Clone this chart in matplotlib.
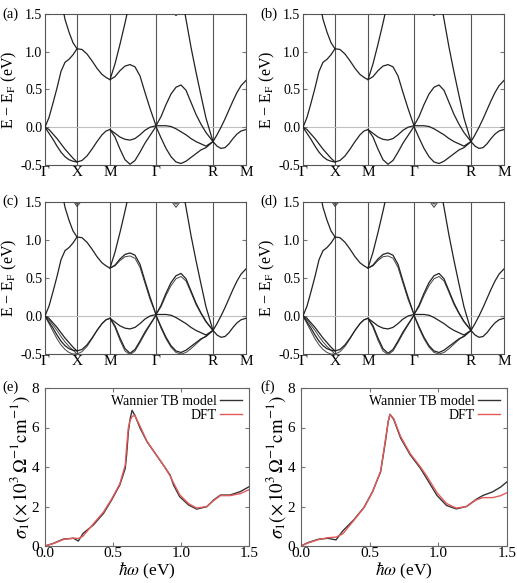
import numpy as np
import matplotlib
matplotlib.use('Agg')
import matplotlib.pyplot as plt
from matplotlib.ticker import FormatStrFormatter

plt.rcParams['font.family'] = 'Liberation Serif'
plt.rcParams['mathtext.fontset'] = 'stix'
plt.rcParams['axes.unicode_minus'] = False

nan = np.nan

# k-path coordinate (path length, arb. units)
k_path = [0, 4, 8, 12, 16, 20, 24, 28, 32,
          37, 42, 47, 52, 57, 61, 65,
          70, 75, 80, 85, 90, 95, 100, 105, 111,
          116, 121, 126, 131, 136, 141, 146, 151, 156, 161, 168,
          172, 176, 180, 184, 188, 192, 196, 201]
k_ticks = [0, 32, 65, 111, 168, 201]
k_labels = ['Γ', 'X', 'M', 'Γ', 'R', 'M']

# bands without splitting (panels a, b)
band_a = [0.00, 0.13, 0.32, 0.52, 0.74, 0.86, 0.90, 0.96, 1.04,
          1.03, 0.97, 0.88, 0.78, 0.70, 0.66, 0.63,
          0.67, 0.75, 0.81, 0.83, 0.80, 0.68, 0.46, 0.25, 0.02,
          0.14, 0.30, 0.44, 0.53, 0.56, 0.49, 0.33, 0.17, 0.04, -0.07, -0.19,
          -0.10, 0.00, 0.11, 0.23, 0.35, 0.46, 0.55, 0.62]
band_u1 = [nan] * 4 + [1.70, 1.43, 1.26, 1.12, 1.04] + [nan] * 35
band_u2 = [nan] * 15 + [0.63, 0.84, 1.10, 1.38, 1.68] + [nan] * 24
band_s = [nan] * 29 + [1.80, 1.43, 1.06, 0.73, 0.42, 0.12, -0.19] + [nan] * 8
band_l1 = [0.00, -0.08, -0.16, -0.25, -0.33, -0.39, -0.43, -0.45, -0.46,
           -0.44, -0.38, -0.29, -0.19, -0.10, -0.05, -0.03,
           -0.13, -0.29, -0.43, -0.49, -0.44, -0.33, -0.21, -0.11, 0.01,
           -0.14, -0.28, -0.39, -0.46, -0.48, -0.45, -0.40, -0.35, -0.30, -0.27, -0.19,
           -0.25, -0.28, -0.27, -0.22, -0.15, -0.09, -0.05, -0.03]
band_l2 = [0.00, -0.03, -0.09, -0.15, -0.22, -0.29, -0.35, -0.41, -0.46,
           nan, nan, nan, nan, nan, nan, -0.03,
           -0.08, -0.13, -0.16, -0.17, -0.15, -0.10, -0.04, 0.00, 0.02,
           0.02, 0.02, 0.01, -0.02, -0.06, -0.10, -0.15, -0.19, -0.22, -0.25, -0.19,
           nan, nan, nan, nan, nan, nan, nan, nan]
band_top = [nan] * 27 + [1.53, 1.48, 1.53] + [nan] * 14

# extra split partners (panels c, d)
split_l1 = [0.00, -0.10, -0.20, -0.30, -0.38, -0.44, -0.48, -0.50, -0.50,
            -0.47, -0.40, -0.30, -0.19, -0.10, -0.05, -0.03] + [nan] * 28
split_l2 = [0.00, -0.05, -0.12, -0.19, -0.27, -0.34, -0.40, -0.45, -0.50] + [nan] * 35
split_a = [nan] * 15 + [0.63, 0.66, 0.73, 0.78, 0.79, 0.76, 0.64, 0.43, 0.22, 0.02,
                        0.12, 0.27, 0.40, 0.49, 0.52, 0.46, 0.31, 0.15, 0.03, -0.08, -0.19] + [nan] * 8
split_l4 = [nan] * 15 + [-0.03, -0.15, -0.32, -0.46, -0.51, -0.46, -0.35, -0.23, -0.12, 0.01,
                         -0.16, -0.30, -0.41, -0.48, -0.50, -0.48, -0.43, -0.37, -0.31, -0.26, -0.19] + [nan] * 8
top1_soc = [nan] * 7 + [1.53, 1.47, 1.53] + [nan] * 17 + [1.53, 1.47, 1.53] + [nan] * 14
top2_soc = [nan] * 7 + [1.52, 1.44, 1.52] + [nan] * 17 + [1.52, 1.43, 1.52] + [nan] * 14

# optical conductivity (e)
omega_e = [0, 0.06, 0.135, 0.21, 0.245, 0.28, 0.355, 0.43, 0.49, 0.55, 0.59, 0.60, 0.613,
           0.625, 0.64, 0.66, 0.70, 0.75, 0.81, 0.87, 0.92, 0.945, 0.99, 1.055, 1.115,
           1.19, 1.24, 1.29, 1.36, 1.435, 1.5]
tb_e = [0, 0.13, 0.35, 0.39, 0.25, 0.64, 1.06, 1.65, 2.33, 3.09, 3.93, 4.6, 5.79,
        6.4, 6.87, 6.63, 5.96, 5.28, 4.69, 4.10, 3.59, 3.09, 2.50, 2.08, 1.87,
        1.99, 2.33, 2.58, 2.58, 2.75, 3.0]
dft_e = [0, 0.12, 0.33, 0.40, 0.38, 0.50, 1.12, 1.72, 2.38, 3.15, 4.1, 5.0, 6.0,
         6.35, 6.55, 6.62, 6.05, 5.3, 4.7, 4.1, 3.55, 3.2, 2.6, 2.15, 1.92,
         2.0, 2.3, 2.55, 2.55, 2.65, 2.85]

# optical conductivity (f)
omega_f = [0, 0.05, 0.125, 0.195, 0.255, 0.305, 0.385, 0.46, 0.52, 0.58, 0.615, 0.635,
           0.648, 0.675, 0.725, 0.795, 0.87, 0.915, 0.99, 1.06, 1.13, 1.205, 1.275,
           1.325, 1.395, 1.455, 1.5]
tb_f = [0, 0.17, 0.34, 0.39, 0.31, 0.77, 1.33, 1.97, 2.74, 3.76, 5.30, 6.3,
        6.67, 6.41, 5.47, 4.62, 3.93, 3.42, 2.56, 2.05, 1.88, 2.0, 2.36,
        2.56, 2.74, 2.99, 3.25]
dft_f = [0, 0.15, 0.32, 0.42, 0.45, 0.62, 1.30, 1.95, 2.72, 3.80, 5.40, 6.3,
         6.65, 6.45, 5.55, 4.68, 4.0, 3.55, 2.70, 2.15, 1.92, 2.0, 2.33,
         2.45, 2.45, 2.55, 2.7]

W, H = 517, 583
fig = plt.figure(figsize=(W / 100, H / 100), dpi=100)


def box(x0, y0, x1, y1):
    return [x0 / W, 1 - y1 / H, (x1 - x0) / W, (y1 - y0) / H]


def band_panel(rect, split):
    ax = fig.add_axes(rect)
    k = np.array(k_path)
    for kt in k_ticks[1:-1]:
        ax.axvline(kt, color='#555555', lw=0.8, zorder=1)
    ax.axhline(0, color='#c0c0c0', lw=0.8, zorder=1)
    main = [band_a, band_u1, band_u2, band_s, band_l1, band_l2]
    for b in main:
        ax.plot(k, np.array(b, dtype=float), color='#222222', lw=0.9, zorder=3)
    if split:
        for b in [split_l1, split_l2, split_a, split_l4, top1_soc, top2_soc]:
            ax.plot(k, np.array(b, dtype=float), color='#444444', lw=0.7, zorder=2)
    else:
        ax.plot(k, np.array(band_top, dtype=float), color='#333333', lw=0.8)
    ax.set_xlim(0, 201)
    ax.set_ylim(-0.5, 1.5)
    ax.set_xticks(k_ticks)
    ax.set_xticklabels(k_labels, fontsize=11)
    ax.set_yticks([-0.5, 0.0, 0.5, 1.0, 1.5])
    ax.yaxis.set_major_formatter(FormatStrFormatter('%.1f'))
    ax.tick_params(axis='x', length=0, pad=1)
    ax.tick_params(axis='y', direction='in', length=3, right=True, labelsize=10,
                   pad=2, color='#777777')
    for sp in ax.spines.values():
        sp.set_color('#555555')
        sp.set_linewidth(0.8)
    ax.set_ylabel('E − E$_{\\rm F}$ (eV)', fontsize=11.5, labelpad=1)
    return ax


def optics_panel(rect, omega, tb, dft):
    ax = fig.add_axes(rect)
    ax.plot(omega, tb, color='#333333', lw=1.0, label='Wannier TB model')
    ax.plot(omega, dft, color='#e45a5a', lw=1.0, label='DFT')
    ax.set_xlim(0, 1.5)
    ax.set_ylim(0, 8)
    ax.set_xticks([0, 0.5, 1.0, 1.5])
    ax.xaxis.set_major_formatter(FormatStrFormatter('%.1f'))
    ax.set_yticks([0, 2, 4, 6, 8])
    ax.tick_params(direction='in', length=3, top=True, right=True, labelsize=11,
                   color='#777777')
    ax.tick_params(axis='x', pad=1)
    ax.tick_params(axis='y', pad=4)
    for sp in ax.spines.values():
        sp.set_color('#666666')
        sp.set_linewidth(0.8)
    ax.set_xlabel(r'$\hbar\omega$ (eV)', fontsize=12.5, labelpad=0)
    ax.set_ylabel(r'$\sigma_1(\times\,10^3\,\Omega^{-1}\mathrm{cm}^{-1})$', fontsize=13.5, labelpad=0)
    ax.legend(loc='upper right', frameon=False, markerfirst=False, fontsize=10,
              handlelength=1.6, handletextpad=0.2, labelspacing=0.1, borderaxespad=0.1)
    return ax


band_panel(box(45, 14, 246, 165), False)
band_panel(box(303, 14, 504, 165), False)
band_panel(box(45, 202, 246, 354), True)
band_panel(box(303, 202, 504, 354), True)
optics_panel(box(45, 388, 249, 546), omega_e, tb_e, dft_e)
optics_panel(box(301, 388, 507, 546), omega_f, tb_f, dft_f)

for lab, x, y in [('(a)', 2, 14), ('(b)', 260, 14), ('(c)', 2, 201),
                  ('(d)', 260, 201), ('(e)', 2, 387), ('(f)', 260, 387)]:
    fig.text(x / W, 1 - y / H, lab, ha='left', va='center', fontsize=10.5)

fig.savefig('out.png', dpi=100)
